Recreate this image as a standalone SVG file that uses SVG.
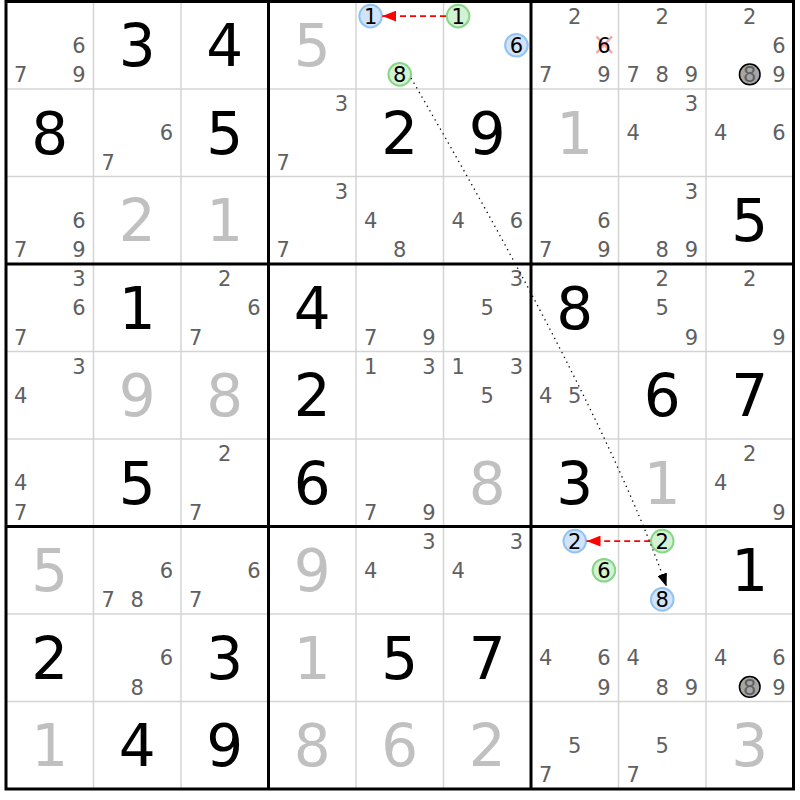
<svg xmlns="http://www.w3.org/2000/svg" width="800" height="800" viewBox="0 0 800 800">
<style>
text{font-family:"DejaVu Sans","Liberation Sans",sans-serif;text-anchor:middle}
.g{font-size:58px;fill:#000}
.s{font-size:58px;fill:#c0c0c0}
.c{font-size:21px;fill:#606060}
.k{font-size:21px;fill:#000}
.hb{fill:#d0e3f8;stroke:#92c3f2;stroke-width:2}
.hg{fill:#d3f2d3;stroke:#86d686;stroke-width:2}
.gr{fill:#a6a6a6;stroke:#000;stroke-width:1.5}
.thin{stroke:#d4d4d4;stroke-width:1.5}
.thick{stroke:#000;stroke-width:3}
</style>
<defs>
<marker id="ar" markerUnits="userSpaceOnUse" markerWidth="14" markerHeight="11" refX="14" refY="5.5" orient="auto"><path d="M0,0 L14,5.5 L0,11 z" fill="#ff0000"/></marker>
<marker id="ak" markerUnits="userSpaceOnUse" markerWidth="13" markerHeight="10" refX="13" refY="5" orient="auto"><path d="M0,0 L13,5 L0,10 z" fill="#000"/></marker>
</defs>
<rect width="800" height="800" fill="#fff"/>
<g id="grid">
<g class="thin">
<line x1="93.5" y1="1.5" x2="93.5" y2="789"/><line x1="181" y1="1.5" x2="181" y2="789"/>
<line x1="356" y1="1.5" x2="356" y2="789"/><line x1="443.5" y1="1.5" x2="443.5" y2="789"/>
<line x1="618.5" y1="1.5" x2="618.5" y2="789"/><line x1="706" y1="1.5" x2="706" y2="789"/>
<line x1="6" y1="89" x2="793.5" y2="89"/><line x1="6" y1="176.5" x2="793.5" y2="176.5"/>
<line x1="6" y1="351.5" x2="793.5" y2="351.5"/><line x1="6" y1="439" x2="793.5" y2="439"/>
<line x1="6" y1="614" x2="793.5" y2="614"/><line x1="6" y1="701.5" x2="793.5" y2="701.5"/>
</g>
<g class="thick">
<line x1="268.5" y1="1.5" x2="268.5" y2="789"/><line x1="531" y1="1.5" x2="531" y2="789"/>
<line x1="6" y1="264" x2="793.5" y2="264"/><line x1="6" y1="526.5" x2="793.5" y2="526.5"/>
<rect x="6" y="1.5" width="787.5" height="787.5" fill="none"/>
</g>
</g>
<!-- Row 1 -->
<g id="r1c1" transform="translate(6,1.5)"><text class="c" x="72.92" y="51.35">6</text><text class="c" x="14.58" y="80.5">7</text><text class="c" x="72.92" y="80.5">9</text></g>
<g id="r1c2" transform="translate(93.5,1.5)"><text class="g" x="43.75" y="64.75">3</text></g>
<g id="r1c3" transform="translate(181,1.5)"><text class="g" x="43.75" y="64.75">4</text></g>
<g id="r1c4" transform="translate(268.5,1.5)"><text class="s" x="43.75" y="64.75">5</text></g>
<g id="r1c5" transform="translate(356,1.5)"><circle class="hb" cx="14.58" cy="14.58" r="11.3"/><text class="k" x="14.58" y="22.2">1</text><circle class="hg" cx="43.75" cy="72.92" r="11.3"/><text class="k" x="43.75" y="80.5">8</text></g>
<g id="r1c6" transform="translate(443.5,1.5)"><circle class="hg" cx="14.58" cy="14.58" r="11.3"/><text class="k" x="14.58" y="22.2">1</text><circle class="hb" cx="72.92" cy="43.75" r="11.3"/><text class="k" x="72.92" y="51.35">6</text></g>
<g id="r1c7" transform="translate(531,1.5)"><text class="c" x="43.75" y="22.2">2</text><path d="M65.5,35 L81,51.5 M81,35 L65.5,51.5" stroke="#ff8f8f" stroke-width="2.5" stroke-opacity="0.85"/><text class="k" x="72.92" y="51.35">6</text><text class="c" x="14.58" y="80.5">7</text><text class="c" x="72.92" y="80.5">9</text></g>
<g id="r1c8" transform="translate(618.5,1.5)"><text class="c" x="43.75" y="22.2">2</text><text class="c" x="14.58" y="80.5">7</text><text class="c" x="43.75" y="80.5">8</text><text class="c" x="72.92" y="80.5">9</text></g>
<g id="r1c9" transform="translate(706,1.5)"><text class="c" x="43.75" y="22.2">2</text><text class="c" x="72.92" y="51.35">6</text><circle class="gr" cx="43.75" cy="72.92" r="10.3"/><text class="c" x="43.75" y="80.5">8</text><text class="c" x="72.92" y="80.5">9</text></g>
<!-- Row 2 -->
<g id="r2c1" transform="translate(6,89)"><text class="g" x="43.75" y="64.75">8</text></g>
<g id="r2c2" transform="translate(93.5,89)"><text class="c" x="72.92" y="51.35">6</text><text class="c" x="14.58" y="80.5">7</text></g>
<g id="r2c3" transform="translate(181,89)"><text class="g" x="43.75" y="64.75">5</text></g>
<g id="r2c4" transform="translate(268.5,89)"><text class="c" x="72.92" y="22.2">3</text><text class="c" x="14.58" y="80.5">7</text></g>
<g id="r2c5" transform="translate(356,89)"><text class="g" x="43.75" y="64.75">2</text></g>
<g id="r2c6" transform="translate(443.5,89)"><text class="g" x="43.75" y="64.75">9</text></g>
<g id="r2c7" transform="translate(531,89)"><text class="s" x="43.75" y="64.75">1</text></g>
<g id="r2c8" transform="translate(618.5,89)"><text class="c" x="72.92" y="22.2">3</text><text class="c" x="14.58" y="51.35">4</text></g>
<g id="r2c9" transform="translate(706,89)"><text class="c" x="14.58" y="51.35">4</text><text class="c" x="72.92" y="51.35">6</text></g>
<!-- Row 3 -->
<g id="r3c1" transform="translate(6,176.5)"><text class="c" x="72.92" y="51.35">6</text><text class="c" x="14.58" y="80.5">7</text><text class="c" x="72.92" y="80.5">9</text></g>
<g id="r3c2" transform="translate(93.5,176.5)"><text class="s" x="43.75" y="64.75">2</text></g>
<g id="r3c3" transform="translate(181,176.5)"><text class="s" x="43.75" y="64.75">1</text></g>
<g id="r3c4" transform="translate(268.5,176.5)"><text class="c" x="72.92" y="22.2">3</text><text class="c" x="14.58" y="80.5">7</text></g>
<g id="r3c5" transform="translate(356,176.5)"><text class="c" x="14.58" y="51.35">4</text><text class="c" x="43.75" y="80.5">8</text></g>
<g id="r3c6" transform="translate(443.5,176.5)"><text class="c" x="14.58" y="51.35">4</text><text class="c" x="72.92" y="51.35">6</text></g>
<g id="r3c7" transform="translate(531,176.5)"><text class="c" x="72.92" y="51.35">6</text><text class="c" x="14.58" y="80.5">7</text><text class="c" x="72.92" y="80.5">9</text></g>
<g id="r3c8" transform="translate(618.5,176.5)"><text class="c" x="72.92" y="22.2">3</text><text class="c" x="43.75" y="80.5">8</text><text class="c" x="72.92" y="80.5">9</text></g>
<g id="r3c9" transform="translate(706,176.5)"><text class="g" x="43.75" y="64.75">5</text></g>
<!-- Row 4 -->
<g id="r4c1" transform="translate(6,264)"><text class="c" x="72.92" y="22.2">3</text><text class="c" x="72.92" y="51.35">6</text><text class="c" x="14.58" y="80.5">7</text></g>
<g id="r4c2" transform="translate(93.5,264)"><text class="g" x="43.75" y="64.75">1</text></g>
<g id="r4c3" transform="translate(181,264)"><text class="c" x="43.75" y="22.2">2</text><text class="c" x="72.92" y="51.35">6</text><text class="c" x="14.58" y="80.5">7</text></g>
<g id="r4c4" transform="translate(268.5,264)"><text class="g" x="43.75" y="64.75">4</text></g>
<g id="r4c5" transform="translate(356,264)"><text class="c" x="14.58" y="80.5">7</text><text class="c" x="72.92" y="80.5">9</text></g>
<g id="r4c6" transform="translate(443.5,264)"><text class="c" x="72.92" y="22.2">3</text><text class="c" x="43.75" y="51.35">5</text></g>
<g id="r4c7" transform="translate(531,264)"><text class="g" x="43.75" y="64.75">8</text></g>
<g id="r4c8" transform="translate(618.5,264)"><text class="c" x="43.75" y="22.2">2</text><text class="c" x="43.75" y="51.35">5</text><text class="c" x="72.92" y="80.5">9</text></g>
<g id="r4c9" transform="translate(706,264)"><text class="c" x="43.75" y="22.2">2</text><text class="c" x="72.92" y="80.5">9</text></g>
<!-- Row 5 -->
<g id="r5c1" transform="translate(6,351.5)"><text class="c" x="72.92" y="22.2">3</text><text class="c" x="14.58" y="51.35">4</text></g>
<g id="r5c2" transform="translate(93.5,351.5)"><text class="s" x="43.75" y="64.75">9</text></g>
<g id="r5c3" transform="translate(181,351.5)"><text class="s" x="43.75" y="64.75">8</text></g>
<g id="r5c4" transform="translate(268.5,351.5)"><text class="g" x="43.75" y="64.75">2</text></g>
<g id="r5c5" transform="translate(356,351.5)"><text class="c" x="14.58" y="22.2">1</text><text class="c" x="72.92" y="22.2">3</text></g>
<g id="r5c6" transform="translate(443.5,351.5)"><text class="c" x="14.58" y="22.2">1</text><text class="c" x="72.92" y="22.2">3</text><text class="c" x="43.75" y="51.35">5</text></g>
<g id="r5c7" transform="translate(531,351.5)"><text class="c" x="14.58" y="51.35">4</text><text class="c" x="43.75" y="51.35">5</text></g>
<g id="r5c8" transform="translate(618.5,351.5)"><text class="g" x="43.75" y="64.75">6</text></g>
<g id="r5c9" transform="translate(706,351.5)"><text class="g" x="43.75" y="64.75">7</text></g>
<!-- Row 6 -->
<g id="r6c1" transform="translate(6,439)"><text class="c" x="14.58" y="51.35">4</text><text class="c" x="14.58" y="80.5">7</text></g>
<g id="r6c2" transform="translate(93.5,439)"><text class="g" x="43.75" y="64.75">5</text></g>
<g id="r6c3" transform="translate(181,439)"><text class="c" x="43.75" y="22.2">2</text><text class="c" x="14.58" y="80.5">7</text></g>
<g id="r6c4" transform="translate(268.5,439)"><text class="g" x="43.75" y="64.75">6</text></g>
<g id="r6c5" transform="translate(356,439)"><text class="c" x="14.58" y="80.5">7</text><text class="c" x="72.92" y="80.5">9</text></g>
<g id="r6c6" transform="translate(443.5,439)"><text class="s" x="43.75" y="64.75">8</text></g>
<g id="r6c7" transform="translate(531,439)"><text class="g" x="43.75" y="64.75">3</text></g>
<g id="r6c8" transform="translate(618.5,439)"><text class="s" x="43.75" y="64.75">1</text></g>
<g id="r6c9" transform="translate(706,439)"><text class="c" x="43.75" y="22.2">2</text><text class="c" x="14.58" y="51.35">4</text><text class="c" x="72.92" y="80.5">9</text></g>
<!-- Row 7 -->
<g id="r7c1" transform="translate(6,526.5)"><text class="s" x="43.75" y="64.75">5</text></g>
<g id="r7c2" transform="translate(93.5,526.5)"><text class="c" x="72.92" y="51.35">6</text><text class="c" x="14.58" y="80.5">7</text><text class="c" x="43.75" y="80.5">8</text></g>
<g id="r7c3" transform="translate(181,526.5)"><text class="c" x="72.92" y="51.35">6</text><text class="c" x="14.58" y="80.5">7</text></g>
<g id="r7c4" transform="translate(268.5,526.5)"><text class="s" x="43.75" y="64.75">9</text></g>
<g id="r7c5" transform="translate(356,526.5)"><text class="c" x="72.92" y="22.2">3</text><text class="c" x="14.58" y="51.35">4</text></g>
<g id="r7c6" transform="translate(443.5,526.5)"><text class="c" x="72.92" y="22.2">3</text><text class="c" x="14.58" y="51.35">4</text></g>
<g id="r7c7" transform="translate(531,526.5)"><circle class="hb" cx="43.75" cy="14.58" r="11.3"/><text class="k" x="43.75" y="22.2">2</text><circle class="hg" cx="72.92" cy="43.75" r="11.3"/><text class="k" x="72.92" y="51.35">6</text></g>
<g id="r7c8" transform="translate(618.5,526.5)"><circle class="hg" cx="43.75" cy="14.58" r="11.3"/><text class="k" x="43.75" y="22.2">2</text><circle class="hb" cx="43.75" cy="72.92" r="11.3"/><text class="k" x="43.75" y="80.5">8</text></g>
<g id="r7c9" transform="translate(706,526.5)"><text class="g" x="43.75" y="64.75">1</text></g>
<!-- Row 8 -->
<g id="r8c1" transform="translate(6,614)"><text class="g" x="43.75" y="64.75">2</text></g>
<g id="r8c2" transform="translate(93.5,614)"><text class="c" x="72.92" y="51.35">6</text><text class="c" x="43.75" y="80.5">8</text></g>
<g id="r8c3" transform="translate(181,614)"><text class="g" x="43.75" y="64.75">3</text></g>
<g id="r8c4" transform="translate(268.5,614)"><text class="s" x="43.75" y="64.75">1</text></g>
<g id="r8c5" transform="translate(356,614)"><text class="g" x="43.75" y="64.75">5</text></g>
<g id="r8c6" transform="translate(443.5,614)"><text class="g" x="43.75" y="64.75">7</text></g>
<g id="r8c7" transform="translate(531,614)"><text class="c" x="14.58" y="51.35">4</text><text class="c" x="72.92" y="51.35">6</text><text class="c" x="72.92" y="80.5">9</text></g>
<g id="r8c8" transform="translate(618.5,614)"><text class="c" x="14.58" y="51.35">4</text><text class="c" x="43.75" y="80.5">8</text><text class="c" x="72.92" y="80.5">9</text></g>
<g id="r8c9" transform="translate(706,614)"><text class="c" x="14.58" y="51.35">4</text><text class="c" x="72.92" y="51.35">6</text><circle class="gr" cx="43.75" cy="72.92" r="10.3"/><text class="c" x="43.75" y="80.5">8</text><text class="c" x="72.92" y="80.5">9</text></g>
<!-- Row 9 -->
<g id="r9c1" transform="translate(6,701.5)"><text class="s" x="43.75" y="64.75">1</text></g>
<g id="r9c2" transform="translate(93.5,701.5)"><text class="g" x="43.75" y="64.75">4</text></g>
<g id="r9c3" transform="translate(181,701.5)"><text class="g" x="43.75" y="64.75">9</text></g>
<g id="r9c4" transform="translate(268.5,701.5)"><text class="s" x="43.75" y="64.75">8</text></g>
<g id="r9c5" transform="translate(356,701.5)"><text class="s" x="43.75" y="64.75">6</text></g>
<g id="r9c6" transform="translate(443.5,701.5)"><text class="s" x="43.75" y="64.75">2</text></g>
<g id="r9c7" transform="translate(531,701.5)"><text class="c" x="43.75" y="51.35">5</text><text class="c" x="14.58" y="80.5">7</text></g>
<g id="r9c8" transform="translate(618.5,701.5)"><text class="c" x="43.75" y="51.35">5</text><text class="c" x="14.58" y="80.5">7</text></g>
<g id="r9c9" transform="translate(706,701.5)"><text class="s" x="43.75" y="64.75">3</text></g>
<g id="connectors" fill="none">
<line x1="446" y1="16.1" x2="382.3" y2="16.1" stroke="#ff0000" stroke-width="1.8" stroke-dasharray="6,4" marker-end="url(#ar)"/>
<line x1="650.2" y1="541.1" x2="586.5" y2="541.1" stroke="#ff0000" stroke-width="1.8" stroke-dasharray="6,4" marker-end="url(#ar)"/>
<path d="M411,78 Q607,416 666.5,586.5" stroke="#000" stroke-width="1.3" stroke-dasharray="1.3,4" marker-end="url(#ak)"/>
</g>
</svg>
